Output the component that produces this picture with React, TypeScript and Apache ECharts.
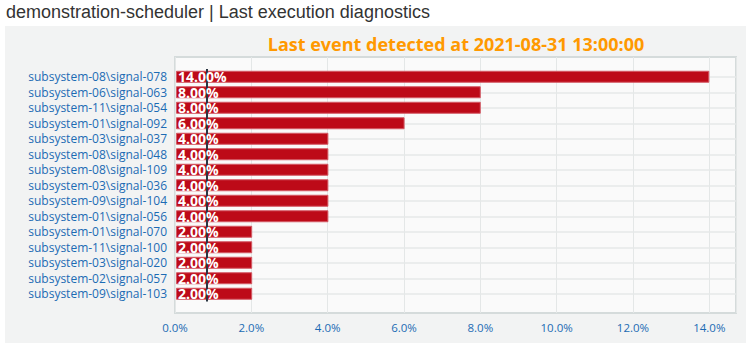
import React, { useEffect, useRef } from "react";
import * as echarts from "echarts";

const PAGE_TITLE = "demonstration-scheduler | Last execution diagnostics";
const CHART_TITLE = "Last event detected at 2021-08-31 13:00:00";

const CATEGORIES = [
  "subsystem-08\\signal-078",
  "subsystem-06\\signal-063",
  "subsystem-11\\signal-054",
  "subsystem-01\\signal-092",
  "subsystem-03\\signal-037",
  "subsystem-08\\signal-048",
  "subsystem-08\\signal-109",
  "subsystem-03\\signal-036",
  "subsystem-09\\signal-104",
  "subsystem-01\\signal-056",
  "subsystem-01\\signal-070",
  "subsystem-11\\signal-100",
  "subsystem-03\\signal-020",
  "subsystem-02\\signal-057",
  "subsystem-09\\signal-103",
];

const VALUES = [14, 8, 8, 6, 4, 4, 4, 4, 4, 4, 2, 2, 2, 2, 2];

const X_TICKS = [0, 2, 4, 6, 8, 10, 12, 14];
const X_MAX = 14.7;
const MARKER_VALUE = 0.8;

const LINK_BLUE = "#1c6bb4";

export default function App() {
  const ref = useRef<HTMLDivElement>(null);

  useEffect(() => {
    if (!ref.current) return;
    const chart = echarts.init(ref.current, undefined, { renderer: "svg" });
    const option: any = {
      animation: false,
      backgroundColor: "#ffffff",
      graphic: [
        {
          type: "rect",
          z: -10,
          silent: true,
          shape: { x: 5, y: 26, width: 741, height: 317 },
          style: { fill: "#f2f3f3" },
        },
        {
          type: "text",
          x: 6,
          y: 12,
          silent: true,
          style: {
            text: PAGE_TITLE,
            fill: "#333333",
            font: '18px "Liberation Sans", Arial, sans-serif',
            verticalAlign: "middle",
            textVerticalAlign: "middle",
          },
        },
        {
          type: "text",
          x: 456,
          y: 44,
          silent: true,
          style: {
            text: CHART_TITLE,
            fill: "#ff9900",
            font: 'bold 18px "Open Sans", sans-serif',
            align: "center",
            textAlign: "center",
            verticalAlign: "middle",
            textVerticalAlign: "middle",
          },
        },
      ],
      grid: [
        {
          left: 175,
          right: 15,
          top: 57,
          bottom: 37,
          show: true,
          backgroundColor: "#fafafa",
          borderColor: "#d5dbdb",
          borderWidth: 2,
        },
        { left: 176, right: 15, top: 69, height: 232.5, show: false },
      ],
      xAxis: [
        {
          gridIndex: 0,
          type: "value",
          min: 0,
          max: X_MAX,
          interval: 2,
          axisLine: { show: false },
          axisTick: { show: false },
          splitLine: { show: true, lineStyle: { color: "#e4e7e7", width: 1 } },
          axisLabel: {
            color: LINK_BLUE,
            fontFamily: '"Open Sans", sans-serif',
            fontSize: 11.5,
            margin: 8,
            formatter: (v: number) =>
              X_TICKS.some((t) => Math.abs(t - v) < 1e-9) ? v.toFixed(1) + "%" : "",
          },
        },
        {
          gridIndex: 1,
          type: "value",
          min: 0,
          max: X_MAX,
          show: false,
          splitLine: { show: false },
        },
      ],
      yAxis: [
        {
          gridIndex: 0,
          type: "value",
          min: 0,
          max: 1,
          show: false,
          splitLine: { show: false },
        },
        {
          gridIndex: 1,
          type: "category",
          inverse: true,
          data: CATEGORIES,
          axisLine: { show: false },
          axisTick: { show: false },
          splitLine: { show: false },
          axisLabel: {
            interval: 0,
            color: LINK_BLUE,
            fontFamily: '"Open Sans", sans-serif',
            fontSize: 12,
            lineHeight: 14,
            margin: 9,
          },
        },
      ],
      series: [
        {
          type: "bar",
          xAxisIndex: 1,
          yAxisIndex: 1,
          data: VALUES,
          barWidth: 12,
          barGap: "-100%",
          clip: false,
          silent: true,
          z: 2,
          itemStyle: { color: "#bd0a18", borderColor: "#d45a64", borderWidth: 1 },
          markLine: {
            silent: true,
            z: 1,
            symbol: ["none", "none"],
            label: { show: false },
            lineStyle: { color: "#e6e8e8", width: 1.5, type: "solid" },
            data: CATEGORIES.map((c) => ({ yAxis: c })),
          },
        },
        {
          type: "bar",
          xAxisIndex: 1,
          yAxisIndex: 1,
          data: VALUES,
          barWidth: 12,
          barGap: "-100%",
          clip: false,
          silent: true,
          z: 4,
          itemStyle: { color: "rgba(0,0,0,0)" },
          label: {
            show: true,
            position: "insideLeft",
            distance: 2,
            color: "#ffffff",
            fontWeight: "bold",
            fontSize: 14,
            lineHeight: 13,
            fontFamily: '"Open Sans", sans-serif',
            formatter: (p: any) => Number(p.value).toFixed(2) + "%",
          },
          markLine: {
            silent: true,
            z: 3,
            symbol: ["none", "none"],
            label: { show: false },
            lineStyle: { color: "#2b3642", width: 2, type: "solid" },
            data: [{ xAxis: MARKER_VALUE }],
          },
        },
      ],
    };
    chart.setOption(option);
    return () => chart.dispose();
  }, []);

  return (
    <div
      ref={ref}
      style={{ position: "fixed", left: 0, top: 0, width: 751, height: 350 }}
    />
  );
}
